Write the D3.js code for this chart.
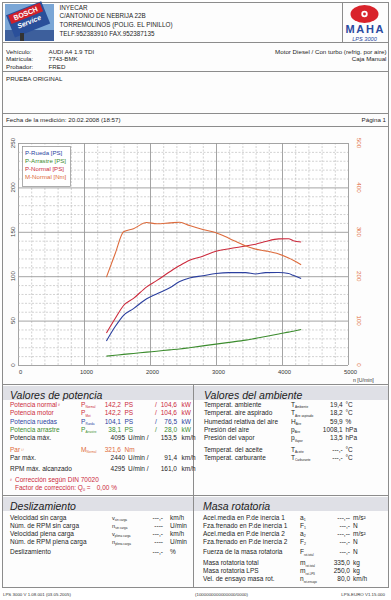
<!DOCTYPE html>
<html><head><meta charset="utf-8">
<script src="https://cdn.jsdelivr.net/npm/d3@7/dist/d3.min.js"></script>
<style>
html,body{margin:0;padding:0;background:#fff;}
svg{display:block;font-family:"Liberation Sans",Arial,sans-serif;}
</style></head>
<body>
<svg id="c" width="391" height="600"></svg>
<script>
// ---- chart data ----
const rpm       = [1340,1470,1600,1750,1950,2100,2300,2450,2600,2800,3000,3200,3450,3600,3750,3950,4100,4170,4290];
const pNormal   = [36,52,67,75,88,95,105,112,118,122.5,128,131,134,136,139,142,142.2,140,138.5];
const pRueda    = [27,43,56,63.5,74.5,80,87,94,98,100.5,103,104,104,102.5,104,104.1,103,101,97.5];
const pArrastre = [10,11,12,13,14.5,15.5,17,18,19.5,21.5,23.5,25.5,28,30,32,35,37,38,40];
const mNormal   = [198,250,300,307,321,318,320,321.6,314,305,298,285,268,261,257,250,241,236,226];
const xTicks    = [0,1000,2000,3000,4000,5000];
const yLeftTicks  = [0,50,100,150,200,250];
const yRightTicks = [0,100,200,300,400,500];
const legendItems = ["P-Rueda [PS]","P-Arrastre [PS]","P-Normal [PS]","M-Normal [Nm]"];

const C = {blue:"#2b3f9e", green:"#3c8c2e", red:"#cc2a3c", orange:"#dd6b3c", txt:"#1e1e1e", grid:"#9a9a9a"};
const svg = d3.select("#c");

// page frame
svg.append("rect").attr("x",2.5).attr("y",2.5).attr("width",386).attr("height",585).attr("fill","#fdfdfd").attr("stroke","#8c8c8c");
function hline(y,x1=3,x2=388,c="#8c8c8c"){svg.append("line").attr("x1",x1).attr("x2",x2).attr("y1",y).attr("y2",y).attr("stroke",c);}
function vline(x,y1,y2,c="#8c8c8c"){svg.append("line").attr("x1",x).attr("x2",x).attr("y1",y1).attr("y2",y2).attr("stroke",c);}
function txt(x,y,s,o={}){
  const t=svg.append("text").attr("x",x).attr("y",y).text(s)
   .attr("font-size",o.size||6.3).attr("fill",o.color||C.txt);
  if(o.anchor) t.attr("text-anchor",o.anchor);
  if(o.italic) t.attr("font-style","italic");
  if(o.weight) t.attr("font-weight",o.weight);
  return t;
}
hline(42.5); hline(71.5); hline(113.5); hline(126.5); hline(384.5); hline(495.5);
vline(342.5,3,42.5);
vline(193.5,384.5,587.5);

// Bosch logo
const bl = svg.append("g");
bl.append("rect").attr("x",5).attr("y",4).attr("width",49).attr("height",37).attr("fill","#7aa6d6");
bl.append("rect").attr("x",5).attr("y",30).attr("width",49).attr("height",11).attr("fill","#3d5f9c");
const bs = bl.append("g").attr("transform","translate(29,19) rotate(-22)");
bs.append("rect").attr("x",-20).attr("y",-12).attr("width",38).attr("height",24).attr("fill","#2a4f9a");
bs.append("rect").attr("x",-18).attr("y",-11).attr("width",34).attr("height",9).attr("fill","#d0202a");
bs.append("text").attr("x",-1).attr("y",-4).attr("text-anchor","middle").attr("font-size",7).attr("font-weight","bold").attr("fill","#fff").text("BOSCH");
bs.append("text").attr("x",-1).attr("y",5).attr("text-anchor","middle").attr("font-size",7).attr("font-weight","bold").attr("font-style","italic").attr("fill","#fff").text("Service");
bl.append("rect").attr("x",20).attr("y",33).attr("width",4).attr("height",8).attr("fill","#333");

// company
["INYECAR","C/ANTONIO DE NEBRIJA 22B","TORREMOLINOS (POLIG. EL PINILLO)","TELF.952383910 FAX.952387135"]
 .forEach((s,i)=>txt(59.5,9.8+i*8.6,s,{size:6.3}));

// MAHA logo
const ml = svg.append("g");
ml.append("ellipse").attr("cx",364.5).attr("cy",14).attr("rx",14).attr("ry",9).attr("fill","#d9232b");
ml.append("circle").attr("cx",364.5).attr("cy",14).attr("r",3.2).attr("fill","#fff");
ml.append("circle").attr("cx",364.5).attr("cy",14).attr("r",1.4).attr("fill","#d9232b");
ml.append("text").attr("x",364.5).attr("y",33).attr("text-anchor","middle").attr("font-size",11).attr("font-weight","bold").attr("fill","#2a4aa0").attr("textLength",38).text("MAHA");
ml.append("text").attr("x",364.5).attr("y",40.5).attr("text-anchor","middle").attr("font-size",5.6).attr("font-style","italic").attr("fill","#2a4aa0").text("LPS 3000");

// vehicle
[["Vehículo:","AUDI A4 1.9 TDI"],["Matrícula:","7743-BMK"],["Probador:","FRED"]].forEach((r,i)=>{
  txt(6,53.5+i*7.6,r[0],{size:6.2}); txt(48.5,53.5+i*7.6,r[1],{size:6.2});
});
txt(386.5,53.5,"Motor Diesel / Con turbo (refrig. por aire)",{size:6.2,anchor:"end"});
txt(386.5,61.1,"Caja Manual",{size:6.2,anchor:"end"});
txt(6,80.5,"PRUEBA ORIGINAL",{size:6.2});
txt(6,122.3,"Fecha de la medición: 20.02.2008 (18:57)",{size:6.2});
txt(386,122.3,"Página 1",{size:6.2,anchor:"end"});

// ---- chart ----
const x  = d3.scaleLinear().domain([0,5000]).range([18,348]);
const yL = d3.scaleLinear().domain([0,250]).range([365,143]);
const yR = d3.scaleLinear().domain([0,500]).range([365,143]);
const g = svg.append("g");
g.append("rect").attr("x",x(0)).attr("y",yL(250)).attr("width",x(5000)-x(0)).attr("height",yL(0)-yL(250)).attr("fill","#fff");
d3.range(0,5001,200).forEach(v=>{
  const maj = v%1000===0;
  g.append("line").attr("x1",x(v)+0.5).attr("x2",x(v)+0.5).attr("y1",yL(0)).attr("y2",yL(250))
   .attr("stroke",maj?C.grid:"#b4b4b4").attr("stroke-width",maj?0.9:0.6).attr("stroke-dasharray",maj?null:"2,1.5");
});
d3.range(0,251,10).forEach(v=>{
  const maj = v%50===0;
  g.append("line").attr("x1",x(0)).attr("x2",x(5000)).attr("y1",yL(v)+0.5).attr("y2",yL(v)+0.5)
   .attr("stroke",maj?C.grid:"#b4b4b4").attr("stroke-width",maj?0.9:0.6).attr("stroke-dasharray",maj?null:"2,1.5");
});
const ax = g.append("g").attr("transform",`translate(0,${yL(0)})`)
 .call(d3.axisBottom(x).tickValues(xTicks).tickSize(0).tickPadding(5).tickFormat(d3.format("d")));
ax.select(".domain").remove();
ax.selectAll("text").attr("font-size",5.8).attr("fill","#333").attr("font-family","Liberation Sans, Arial").attr("dx",2);
txt(353,381.5,"n [U/min]",{size:5.2,color:"#333"});

const al = g.append("g").attr("transform",`translate(${x(0)},0)`)
 .call(d3.axisLeft(yL).tickValues(yLeftTicks).tickSize(0).tickFormat(d3.format("d")));
al.select(".domain").remove();
al.selectAll(".tick").attr("transform",null);
al.selectAll("text").attr("font-size",6.2).attr("fill","#444").attr("font-family","Liberation Sans, Arial")
 .attr("text-anchor","middle").attr("x",0).attr("y",0).attr("dy",0)
 .attr("transform",d=>`translate(-3,${yL(d)}) rotate(-90)`);

const ar = g.append("g").attr("transform",`translate(${x(5000)},0)`)
 .call(d3.axisRight(yR).tickValues(yRightTicks).tickSize(0).tickFormat(d3.format("d")));
ar.select(".domain").remove();
ar.selectAll(".tick").attr("transform",null);
ar.selectAll("text").attr("font-size",6.2).attr("fill",C.orange).attr("font-family","Liberation Sans, Arial")
 .attr("text-anchor","middle").attr("x",0).attr("y",0).attr("dy",0)
 .attr("transform",d=>`translate(9,${yR(d)}) rotate(90)`);

const lineL = arr => d3.line().x((d,i)=>x(rpm[i])).y(d=>yL(d)).curve(d3.curveMonotoneX)(arr);
const lineR = arr => d3.line().x((d,i)=>x(rpm[i])).y(d=>yR(d)).curve(d3.curveMonotoneX)(arr);
[[pArrastre,C.green,lineL],[pRueda,C.blue,lineL],[pNormal,C.red,lineL],[mNormal,C.orange,lineR]].forEach(([a,c,f])=>{
  g.append("path").attr("d",f(a)).attr("fill","none").attr("stroke",c).attr("stroke-width",1.1);
});

// legend
g.append("rect").attr("x",22.5).attr("y",146.5).attr("width",48).attr("height",40).attr("fill","#fff").attr("stroke","#8a8a8a").attr("stroke-width",0.7);
const lc=[C.blue,C.green,C.red,C.orange];
legendItems.forEach((s,i)=>txt(25,155.3+i*8,s,{size:6.1,color:lc[i]}));

// ---- panels ----
function band(y,x1,x2){
  svg.append("rect").attr("x",x1).attr("y",y).attr("width",x2-x1).attr("height",14).attr("fill","#dfe0e6");
}
band(386,3,193); band(386,194,388); band(497,3,193); band(497,194,388);
txt(10,398.5,"Valores de potencia",{size:10.5,italic:true,color:"#222"});
txt(204,398.5,"Valores del ambiente",{size:10.5,italic:true,color:"#222"});
txt(10,509.5,"Deslizamiento",{size:10.5,italic:true,color:"#222"});
txt(203,509.5,"Masa rotatoria",{size:10.5,italic:true,color:"#222"});

function sym(xp,y,main,sub,color,size=6.6,subSize=3.1){
  const t=svg.append("text").attr("x",xp).attr("y",y).attr("font-size",size).attr("fill",color||C.txt);
  t.append("tspan").text(main);
  if(sub) t.append("tspan").text(sub).attr("font-size",subSize).attr("dy",1.3);
}
const FS=6.5;
// potencia
const pot=[
 ["Potencia normal","¹⁾","P","Normal",C.red,"142,2","PS","104,6","kW",407],
 ["Potencia motor","","P","Mot",C.red,"142,2","PS","104,6","kW",415.3],
 ["Potencia ruedas","","P","Rueda",C.blue,"104,1","PS","76,5","kW",423.6],
 ["Potencia arrastre","","P","Arrastre",C.green,"38,1","PS","28,0","kW",431.9],
];
pot.forEach(r=>{
  const t=txt(10,r[9],r[0],{size:FS,color:r[4]});
  if(r[1]) t.append("tspan").text(" "+r[1]).attr("font-size",4);
  sym(81,r[9],r[2],r[3],r[4]);
  txt(121,r[9],r[5],{size:FS,color:r[4],anchor:"end"});
  txt(124.5,r[9],r[6],{size:FS,color:r[4]});
  txt(155,r[9],"/",{size:FS,color:r[4]});
  txt(177,r[9],r[7],{size:FS,color:r[4],anchor:"end"});
  txt(181.5,r[9],r[8],{size:FS,color:r[4]});
});
function rpmRow(y,label,a,b){
  txt(10,y,label,{size:FS});
  txt(125,y,a,{size:FS,anchor:"end"}); txt(128,y,"U/min /",{size:FS});
  txt(177,y,b,{size:FS,anchor:"end"}); txt(181.5,y,"km/h",{size:FS});
}
rpmRow(440,"Potencia máx.","4095","153,5");
{ const t=txt(10,451.5,"Par",{size:FS,color:C.orange}); t.append("tspan").text(" ¹⁾").attr("font-size",4);
  sym(81,451.5,"M","Normal",C.orange);
  txt(121,451.5,"321,6",{size:FS,color:C.orange,anchor:"end"}); txt(124.5,451.5,"Nm",{size:FS,color:C.orange}); }
rpmRow(459.8,"Par máx.","2440","91,4");
rpmRow(470.5,"RPM máx. alcanzado","4295","161,0");
txt(10,481.5,"¹⁾",{size:4,color:C.red});
txt(15,481.5,"Corrección según DIN 70020",{size:FS,color:C.red});
{ const t=txt(15,490,"Factor de corrección: Q",{size:FS,color:C.red});
  t.append("tspan").text("0").attr("font-size",3.8).attr("dy",1.3);
  t.append("tspan").text(" =").attr("dy",-1.3);
  txt(117,490,"0,00 %",{size:FS,color:C.red,anchor:"end"}); }

// ambiente
const amb=[
 ["Temperat. ambiente","T","Ambiente","19,4","°C",407],
 ["Temperat. aire aspirado","T","Aire aspirado","18,2","°C",415.3],
 ["Humedad relativa del aire","H","Aire","59,9","%",423.6],
 ["Presión del aire","p","Aire","1008,1","hPa",431.9],
 ["Presión del vapor","p","Vapor","13,5","hPa",440.2],
 ["Temperat. del aceite","T","Aceite","---,-","°C",451.5],
 ["Temperat. carburante","T","Carburante","---,-","°C",459.8],
];
amb.forEach(r=>{
  txt(204,r[5],r[0],{size:FS});
  sym(291,r[5],r[1],r[2]);
  txt(342.7,r[5],r[3],{size:FS,anchor:"end"});
  txt(345.5,r[5],r[4],{size:FS});
});

// deslizamiento
const des=[
 ["Velocidad sin carga","v","sin carga","---,-","km/h",519.8],
 ["Núm. de RPM sin carga","n","sin carga","----","U/min",527.8],
 ["Velocidad plena carga","v","plena carga","---,-","km/h",535.8],
 ["Núm. de RPM plena carga","n","plena carga","----","U/min",543.8],
 ["Deslizamiento","","","---,-","%",554.3],
];
des.forEach(r=>{
  txt(10,r[5],r[0],{size:FS});
  if(r[1]) sym(112,r[5],r[1],r[2],C.txt,5.6,3.0);
  txt(163,r[5],r[3],{size:FS,anchor:"end"});
  txt(170,r[5],r[4],{size:FS});
});

// masa rotatoria
const mas=[
 ["Acel.media en P.de inercia 1","a","1","---,--","m/s²",519.8],
 ["Fza.frenado en P.de inercia 1","F","1","---,-","N",527.8],
 ["Acel.media en P.de inercia 2","a","2","---,--","m/s²",535.8],
 ["Fza.frenado en P.de inercia 2","F","2","---,-","N",543.8],
 ["Fuerza de la masa rotatoria","F","rot-total","---,-","N",554.3],
 ["Masa rotatoria total","m","rot-total","335,0","kg",565.3],
 ["Masa rotatoria LPS","m","rot-LPS","250,0","kg",573.3],
 ["Vel. de ensayo masa rot.","n","rot-ensayo","80,0","km/h",581.3],
];
mas.forEach(r=>{
  txt(203,r[5],r[0],{size:FS});
  sym(300,r[5],r[1],r[2],C.txt,6.6,r[2].length>1?2.8:3.6);
  txt(350,r[5],r[3],{size:FS,anchor:"end"});
  txt(353,r[5],r[4],{size:FS});
});

// footer
txt(3,595.5,"LPS 3000 V 1.08.001 (03.05.2005)",{size:4.4,color:"#333"});
txt(195,595.5,"(1000000000000000/0000)",{size:4.4,color:"#333"});
txt(385,595.5,"LPS-EURO V1.15.000",{size:4.4,color:"#333",anchor:"end"});
</script>
</body></html>
